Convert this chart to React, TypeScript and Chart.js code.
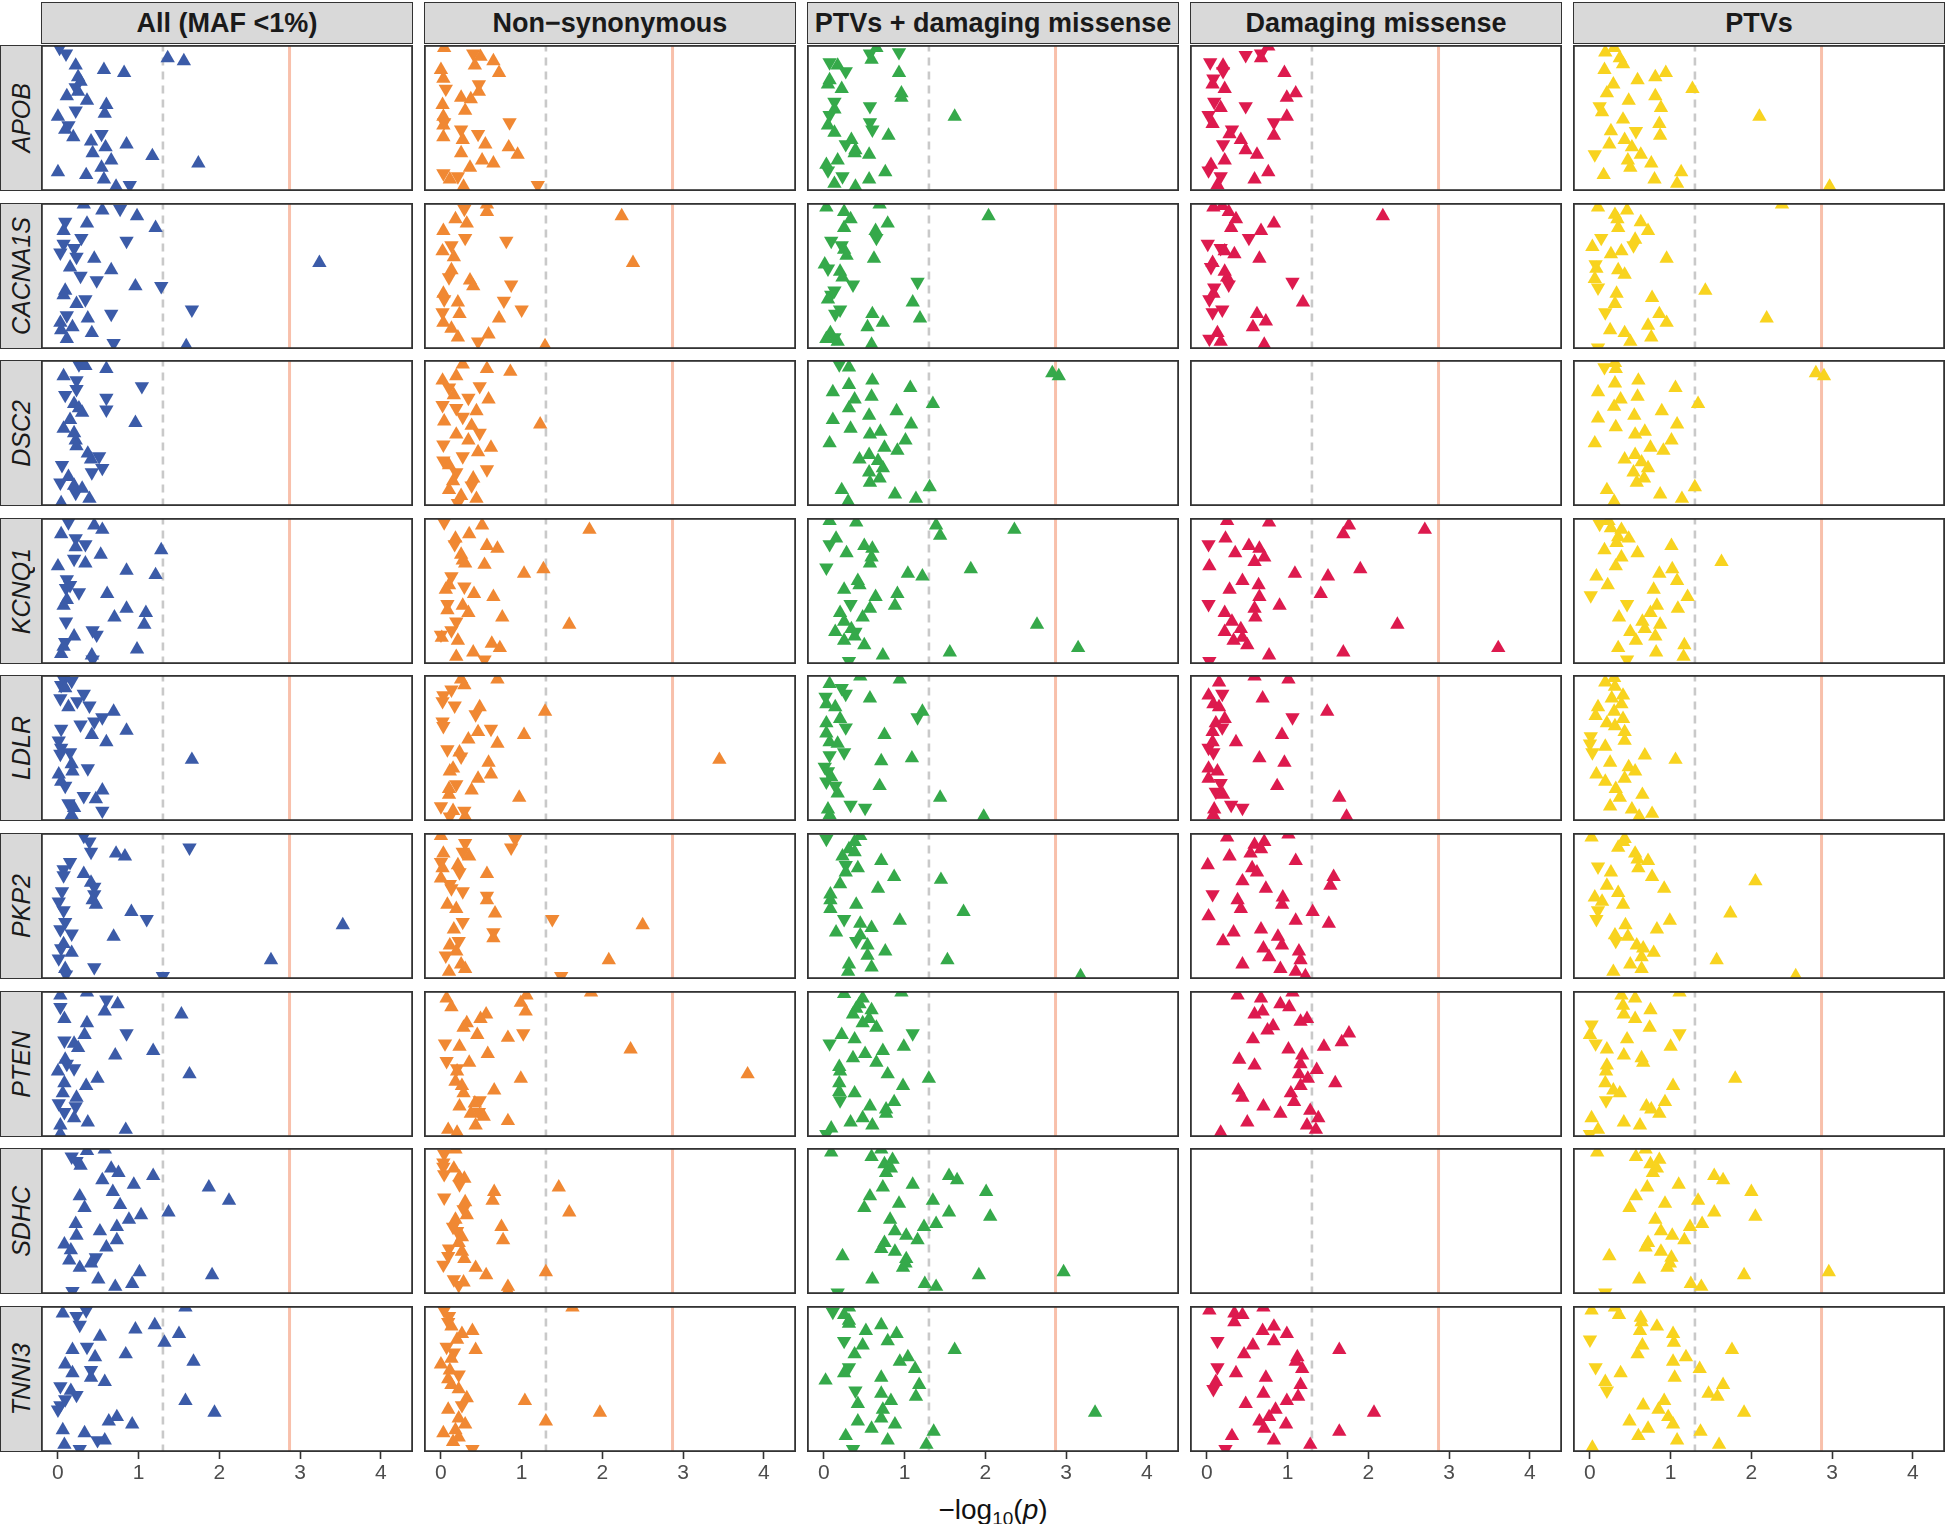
import React, { useEffect, useRef } from "react";
import { Chart, registerables } from "chart.js";

Chart.register(...registerables);

type Pt = [number, number, number]; // [-log10(p), jitter position, direction (+1 up / -1 down)]

const genes = ["APOB", "CACNA1S", "DSC2", "KCNQ1", "LDLR", "PKP2", "PTEN", "SDHC", "TNNI3"];
const categories = ["All (MAF <1%)", "Non\u2212synonymous", "PTVs + damaging missense", "Damaging missense", "PTVs"];
const categoryColors = ["#3B5BA8", "#F08833", "#35A94A", "#DD1A4E", "#F8D31F"];
const xTicks = [0, 1, 2, 3, 4];
const nominalThreshold = 1.301;
const bonferroniThreshold = 2.87;

const allMaf: Pt[][] = [
  [[0.02,0.98,-1],[0.10,0.94,-1],[0.22,0.86,1],[0.57,0.83,1],[0.82,0.81,1],[1.36,0.91,1],[1.56,0.89,1],[0.25,0.78,1],[0.28,0.75,1],[0.22,0.71,-1],[0.25,0.68,1],[0.11,0.65,1],[0.36,0.62,1],[0.60,0.59,1],[0.22,0.55,-1],[0.58,0.53,1],[0.00,0.51,1],[0.13,0.45,-1],[0.09,0.42,1],[0.19,0.37,1],[0.54,0.39,-1],[0.41,0.34,1],[0.85,0.32,1],[0.59,0.30,1],[0.43,0.26,1],[1.17,0.24,1],[0.66,0.21,1],[1.74,0.19,1],[0.00,0.13,1],[0.54,0.16,1],[0.35,0.11,1],[0.57,0.08,1],[0.72,0.03,1],[0.89,0.04,-1]],
  [[0.32,0.99,1],[0.55,0.95,1],[0.77,0.96,-1],[0.98,0.91,1],[0.09,0.87,-1],[0.36,0.86,1],[0.07,0.81,1],[1.21,0.83,1],[0.29,0.76,-1],[0.85,0.74,-1],[0.07,0.72,-1],[0.20,0.69,-1],[0.03,0.66,-1],[0.23,0.63,-1],[0.45,0.62,1],[3.24,0.59,1],[0.15,0.56,1],[0.66,0.54,1],[0.28,0.50,-1],[0.48,0.47,-1],[0.96,0.43,1],[1.28,0.43,-1],[0.09,0.40,1],[0.07,0.37,1],[0.34,0.34,-1],[0.23,0.31,1],[1.66,0.27,-1],[0.66,0.24,-1],[0.11,0.23,-1],[0.37,0.21,1],[0.03,0.18,1],[0.18,0.15,1],[0.04,0.13,1],[0.42,0.11,1],[0.11,0.07,1],[0.69,0.04,-1],[1.59,0.02,1]],
  [[0.26,0.97,-1],[0.34,0.96,1],[0.60,0.94,1],[0.07,0.89,1],[0.23,0.86,-1],[0.23,0.80,-1],[0.09,0.76,-1],[1.04,0.82,-1],[0.60,0.74,-1],[0.60,0.66,-1],[0.20,0.70,1],[0.26,0.67,1],[0.30,0.64,1],[0.96,0.57,1],[0.15,0.59,1],[0.07,0.53,1],[0.20,0.50,1],[0.22,0.45,1],[0.23,0.41,1],[0.37,0.36,1],[0.41,0.32,1],[0.51,0.34,-1],[0.55,0.26,-1],[0.42,0.23,-1],[0.05,0.28,-1],[0.13,0.20,1],[0.03,0.16,-1],[0.20,0.14,1],[0.30,0.12,1],[0.22,0.09,-1],[0.39,0.05,1],[0.04,0.02,1]],
  [[0.13,0.97,-1],[0.45,0.95,1],[0.55,0.92,1],[0.04,0.89,1],[0.22,0.86,-1],[0.34,0.82,-1],[0.22,0.80,1],[1.28,0.78,1],[0.53,0.75,1],[0.20,0.72,-1],[0.34,0.69,1],[0.00,0.67,1],[0.85,0.64,1],[1.21,0.61,1],[0.11,0.58,-1],[0.15,0.54,-1],[0.10,0.52,-1],[0.26,0.49,-1],[0.61,0.48,1],[0.11,0.44,1],[0.07,0.40,1],[0.85,0.38,1],[1.09,0.35,1],[0.70,0.32,1],[1.07,0.27,1],[0.10,0.29,-1],[0.43,0.23,-1],[0.48,0.20,-1],[0.20,0.19,1],[0.09,0.15,-1],[0.07,0.12,1],[0.04,0.07,1],[0.98,0.10,1],[0.42,0.06,1],[0.43,0.03,-1]],
  [[0.07,0.97,-1],[0.17,0.96,-1],[0.04,0.93,-1],[0.09,0.91,1],[0.32,0.87,-1],[0.03,0.84,-1],[0.24,0.82,-1],[0.39,0.79,-1],[0.13,0.78,1],[0.69,0.75,1],[0.55,0.71,-1],[0.45,0.68,-1],[0.28,0.66,-1],[0.04,0.63,-1],[0.85,0.62,1],[0.42,0.59,1],[0.60,0.54,1],[0.01,0.55,-1],[0.04,0.50,-1],[0.15,0.47,-1],[0.03,0.46,-1],[1.66,0.42,1],[0.17,0.39,1],[0.37,0.36,-1],[0.18,0.34,1],[0.01,0.32,1],[0.04,0.27,1],[0.09,0.24,-1],[0.55,0.21,1],[0.32,0.17,-1],[0.47,0.15,1],[0.13,0.12,-1],[0.20,0.09,1],[0.17,0.04,1],[0.55,0.07,-1]],
  [[0.32,0.98,-1],[0.39,0.94,-1],[0.41,0.87,-1],[1.63,0.90,-1],[0.72,0.86,1],[0.83,0.84,1],[0.15,0.80,-1],[0.07,0.75,-1],[0.07,0.71,-1],[0.32,0.72,1],[0.41,0.66,1],[0.45,0.63,-1],[0.45,0.58,-1],[0.43,0.54,1],[0.47,0.51,1],[0.05,0.60,-1],[0.01,0.53,-1],[0.07,0.47,-1],[0.91,0.46,1],[1.10,0.41,-1],[3.53,0.37,1],[0.09,0.39,-1],[0.03,0.34,-1],[0.17,0.31,-1],[0.69,0.29,1],[0.07,0.24,1],[0.04,0.21,-1],[0.17,0.18,1],[0.01,0.14,-1],[2.64,0.13,1],[0.45,0.08,-1],[0.09,0.07,1],[0.10,0.03,-1],[1.30,0.02,-1]],
  [[0.03,0.97,1],[0.36,0.99,1],[0.60,0.94,-1],[0.74,0.91,1],[0.58,0.86,1],[0.03,0.89,-1],[1.53,0.84,1],[0.08,0.81,1],[0.36,0.78,1],[0.33,0.70,1],[0.85,0.71,-1],[0.08,0.66,-1],[0.20,0.64,1],[0.25,0.61,1],[1.18,0.59,1],[0.71,0.56,1],[0.09,0.53,1],[0.11,0.50,-1],[0.20,0.47,-1],[0.00,0.45,1],[1.63,0.43,1],[0.49,0.40,1],[0.08,0.37,1],[0.35,0.35,1],[0.06,0.30,1],[0.23,0.27,1],[0.01,0.23,-1],[0.22,0.21,-1],[0.08,0.17,-1],[0.20,0.13,1],[0.37,0.10,1],[0.03,0.08,1],[0.84,0.05,1],[0.03,0.02,1]],
  [[0.36,0.98,1],[0.58,0.99,1],[0.17,0.94,-1],[0.23,0.91,-1],[0.28,0.88,1],[0.66,0.86,1],[0.75,0.83,1],[1.18,0.81,1],[0.55,0.78,1],[0.94,0.75,1],[1.87,0.73,1],[0.68,0.70,1],[0.27,0.67,1],[2.12,0.64,1],[0.77,0.61,1],[0.33,0.59,1],[1.37,0.56,1],[1.03,0.54,1],[0.88,0.51,1],[0.22,0.48,1],[0.73,0.46,1],[0.52,0.43,1],[0.23,0.40,1],[0.73,0.37,1],[0.08,0.34,1],[0.60,0.32,1],[0.16,0.30,1],[0.47,0.25,-1],[0.14,0.23,1],[0.41,0.21,1],[0.27,0.18,1],[1.01,0.15,1],[1.91,0.13,1],[0.50,0.10,1],[0.92,0.07,1],[0.71,0.05,1],[0.18,0.02,-1]],
  [[0.06,0.95,1],[0.35,0.97,-1],[0.23,0.93,-1],[0.27,0.87,-1],[1.58,0.99,1],[0.96,0.84,1],[1.20,0.87,1],[1.50,0.81,1],[0.52,0.79,1],[1.32,0.75,1],[0.36,0.72,-1],[0.18,0.70,1],[0.84,0.67,1],[0.46,0.65,1],[1.68,0.62,1],[0.09,0.60,1],[0.18,0.54,1],[0.41,0.56,-1],[0.41,0.51,1],[0.58,0.48,1],[0.03,0.45,-1],[0.16,0.42,1],[0.23,0.39,-1],[0.09,0.36,-1],[0.03,0.32,-1],[0.00,0.29,-1],[1.58,0.35,1],[1.94,0.27,1],[0.73,0.24,1],[0.63,0.21,1],[0.92,0.19,1],[0.06,0.15,1],[0.33,0.13,1],[0.49,0.08,-1],[0.58,0.08,1],[0.08,0.05,1],[0.27,0.02,-1]]
];

const nonSynonymous: Pt[][] = [
  [[0.04,0.98,1],[0.40,0.94,-1],[0.49,0.92,1],[0.65,0.89,1],[0.42,0.86,1],[0.00,0.83,1],[0.72,0.81,1],[0.03,0.77,1],[0.06,0.70,-1],[0.47,0.73,-1],[0.47,0.68,1],[0.25,0.64,1],[0.37,0.63,1],[0.02,0.59,1],[0.30,0.55,1],[0.03,0.51,1],[0.04,0.47,-1],[0.03,0.45,1],[0.85,0.47,-1],[0.25,0.42,-1],[0.46,0.39,-1],[0.03,0.37,1],[0.27,0.35,1],[0.55,0.32,1],[0.84,0.30,1],[0.25,0.26,1],[0.95,0.25,1],[0.51,0.21,1],[0.65,0.19,1],[0.36,0.16,1],[0.03,0.12,-1],[0.21,0.10,-1],[0.11,0.08,1],[0.28,0.03,1],[1.20,0.04,-1]],
  [[0.57,0.99,1],[0.57,0.94,1],[0.29,0.96,-1],[2.24,0.91,1],[0.18,0.89,1],[0.32,0.86,1],[0.03,0.81,1],[0.30,0.76,-1],[0.81,0.74,-1],[0.13,0.71,-1],[0.02,0.67,1],[0.16,0.63,1],[2.38,0.59,1],[0.13,0.54,1],[0.10,0.49,-1],[0.36,0.47,1],[0.40,0.43,1],[0.87,0.44,-1],[0.03,0.38,1],[0.04,0.34,-1],[0.21,0.32,1],[0.78,0.33,-1],[1.00,0.27,-1],[0.02,0.25,-1],[0.23,0.24,1],[0.72,0.21,1],[0.03,0.18,1],[0.13,0.14,1],[0.21,0.08,1],[0.59,0.10,1],[0.46,0.05,-1],[1.29,0.02,1]],
  [[0.27,0.97,1],[0.57,0.94,1],[0.86,0.92,1],[0.19,0.89,1],[0.02,0.86,1],[0.10,0.81,-1],[0.16,0.76,1],[0.48,0.82,-1],[0.34,0.74,-1],[0.59,0.73,1],[0.02,0.69,-1],[0.19,0.67,-1],[0.27,0.61,-1],[0.44,0.65,1],[0.04,0.58,1],[1.23,0.56,1],[0.38,0.55,1],[0.48,0.50,-1],[0.19,0.49,1],[0.34,0.45,1],[0.03,0.42,-1],[0.62,0.40,1],[0.46,0.37,1],[0.27,0.34,-1],[0.03,0.31,-1],[0.10,0.28,1],[0.57,0.25,-1],[0.19,0.23,-1],[0.40,0.19,1],[0.15,0.17,1],[0.38,0.14,-1],[0.10,0.11,1],[0.25,0.07,1],[0.44,0.05,1],[0.21,0.02,-1]],
  [[0.04,0.97,-1],[0.51,0.95,1],[1.84,0.92,1],[0.35,0.89,1],[0.18,0.86,1],[0.17,0.82,-1],[0.57,0.81,1],[0.70,0.79,1],[0.25,0.75,1],[0.27,0.71,1],[0.30,0.69,1],[0.54,0.68,1],[1.03,0.62,1],[1.27,0.65,1],[0.13,0.60,-1],[0.10,0.54,1],[0.29,0.53,-1],[0.06,0.51,1],[0.41,0.48,1],[0.65,0.46,1],[0.08,0.41,-1],[0.08,0.37,1],[0.27,0.40,1],[0.34,0.35,1],[0.76,0.32,1],[1.59,0.27,1],[0.19,0.29,-1],[0.13,0.23,-1],[0.00,0.20,-1],[0.01,0.18,1],[0.21,0.16,1],[0.63,0.14,1],[0.73,0.11,1],[0.40,0.08,1],[0.19,0.05,1],[0.54,0.03,-1]],
  [[0.25,0.97,1],[0.29,0.93,1],[0.70,0.97,1],[0.13,0.90,-1],[0.03,0.86,-1],[0.02,0.82,-1],[0.17,0.79,-1],[0.48,0.78,1],[0.43,0.73,-1],[1.29,0.75,1],[0.02,0.68,-1],[0.03,0.65,-1],[0.62,0.63,-1],[0.46,0.61,1],[0.34,0.56,1],[1.03,0.59,1],[0.70,0.53,1],[0.08,0.49,-1],[0.23,0.47,1],[0.25,0.44,-1],[3.45,0.42,1],[0.59,0.40,1],[0.15,0.36,1],[0.11,0.34,1],[0.62,0.32,1],[0.46,0.29,1],[0.19,0.25,-1],[0.10,0.22,1],[0.38,0.21,1],[0.10,0.18,1],[0.97,0.16,1],[0.00,0.10,-1],[0.15,0.07,1],[0.29,0.07,-1],[0.11,0.03,-1],[0.30,0.03,1]],
  [[0.00,0.98,1],[0.30,0.93,-1],[0.92,0.96,-1],[0.87,0.90,-1],[0.27,0.87,-1],[0.35,0.84,1],[0.03,0.86,1],[0.00,0.80,-1],[0.02,0.76,1],[0.21,0.78,1],[0.23,0.73,-1],[0.57,0.72,1],[0.00,0.69,1],[0.11,0.65,-1],[0.13,0.62,-1],[0.27,0.60,-1],[0.57,0.57,-1],[0.57,0.54,1],[0.08,0.51,1],[0.19,0.48,1],[0.67,0.45,1],[1.38,0.41,-1],[0.27,0.39,-1],[2.50,0.37,1],[0.16,0.34,1],[0.65,0.32,-1],[0.65,0.28,1],[0.22,0.26,-1],[0.11,0.23,1],[0.19,0.19,1],[0.06,0.16,-1],[2.08,0.13,1],[0.25,0.10,1],[0.30,0.07,1],[0.10,0.05,1],[1.49,0.02,-1]],
  [[0.07,0.95,1],[0.13,0.89,1],[1.06,0.97,1],[0.99,0.92,1],[1.05,0.86,1],[1.86,0.99,1],[0.56,0.84,1],[0.49,0.81,1],[0.32,0.78,1],[0.28,0.75,1],[1.02,0.71,-1],[0.45,0.70,1],[0.83,0.68,1],[0.05,0.64,-1],[0.23,0.62,1],[2.35,0.60,1],[0.58,0.57,1],[0.07,0.52,-1],[0.35,0.51,1],[0.20,0.47,-1],[0.20,0.45,1],[0.99,0.40,1],[3.80,0.43,1],[0.18,0.38,1],[0.26,0.35,1],[0.66,0.32,1],[0.28,0.30,1],[0.48,0.25,-1],[0.42,0.23,1],[0.23,0.21,1],[0.47,0.17,-1],[0.37,0.16,1],[0.53,0.14,1],[0.83,0.11,1],[0.43,0.08,1],[0.09,0.05,1],[0.20,0.03,1]],
  [[0.04,0.96,-1],[0.18,0.99,1],[0.03,0.90,-1],[0.03,0.87,-1],[0.16,0.86,1],[0.04,0.82,-1],[0.23,0.80,1],[0.29,0.79,1],[0.23,0.75,-1],[0.66,0.70,1],[0.64,0.64,1],[1.46,0.73,1],[0.04,0.66,-1],[0.30,0.63,1],[0.28,0.58,-1],[0.32,0.54,1],[1.59,0.56,1],[0.18,0.51,1],[0.15,0.46,-1],[0.20,0.43,-1],[0.26,0.39,1],[0.75,0.46,1],[0.77,0.37,1],[0.22,0.35,1],[0.10,0.31,-1],[0.09,0.26,-1],[0.26,0.29,1],[0.29,0.24,1],[0.03,0.20,-1],[0.43,0.18,1],[0.56,0.13,1],[1.30,0.15,1],[0.16,0.10,-1],[0.28,0.08,1],[0.22,0.06,-1],[0.83,0.05,1],[0.83,0.02,1]],
  [[0.04,0.97,-1],[0.10,0.93,-1],[0.09,0.89,-1],[0.13,0.86,1],[1.63,0.99,1],[0.39,0.83,1],[0.26,0.81,1],[0.20,0.77,1],[0.07,0.72,-1],[0.16,0.68,-1],[0.43,0.70,1],[0.13,0.64,1],[0.00,0.60,1],[0.11,0.56,1],[0.22,0.53,-1],[0.09,0.50,1],[0.13,0.46,1],[0.22,0.43,1],[0.32,0.37,1],[0.26,0.32,-1],[1.04,0.35,1],[0.09,0.29,1],[1.97,0.27,1],[0.22,0.23,1],[1.30,0.21,1],[0.30,0.19,1],[0.18,0.15,1],[0.03,0.13,1],[0.22,0.10,1],[0.15,0.07,1],[0.39,0.02,-1]]
];

const ptvDamaging: Pt[][] = [
  [[0.65,0.98,1],[0.57,0.94,-1],[0.59,0.90,1],[0.93,0.95,-1],[0.07,0.88,-1],[0.17,0.86,1],[0.27,0.82,-1],[0.93,0.81,1],[0.07,0.76,1],[0.05,0.73,1],[0.22,0.70,1],[0.96,0.67,1],[0.96,0.64,1],[0.13,0.61,-1],[0.13,0.56,1],[0.07,0.52,-1],[0.57,0.58,-1],[1.62,0.51,1],[0.57,0.47,-1],[0.60,0.42,-1],[0.05,0.45,1],[0.13,0.40,1],[0.80,0.38,1],[0.34,0.35,1],[0.27,0.32,-1],[0.39,0.28,1],[0.38,0.26,1],[0.56,0.25,1],[0.17,0.21,1],[0.03,0.18,1],[0.05,0.14,-1],[0.76,0.13,1],[0.23,0.10,-1],[0.56,0.08,1],[0.13,0.05,1],[0.39,0.03,1]],
  [[0.03,0.97,1],[0.25,0.94,1],[0.33,0.89,1],[0.69,0.99,1],[2.04,0.91,1],[0.79,0.86,1],[0.25,0.83,1],[0.64,0.81,1],[0.65,0.76,-1],[0.09,0.74,-1],[0.22,0.71,-1],[0.25,0.68,1],[0.28,0.64,1],[0.62,0.62,1],[0.01,0.58,1],[0.05,0.55,-1],[0.20,0.53,1],[0.23,0.49,1],[0.36,0.44,-1],[1.16,0.46,-1],[0.13,0.40,-1],[0.09,0.37,-1],[0.05,0.34,1],[1.10,0.32,1],[0.20,0.27,-1],[0.14,0.24,-1],[0.60,0.24,1],[1.19,0.21,1],[0.73,0.18,1],[0.54,0.15,1],[0.08,0.11,1],[0.03,0.07,1],[0.17,0.05,1],[0.13,0.08,-1],[0.59,0.03,1]],
  [[0.19,0.97,-1],[0.31,0.95,1],[2.83,0.91,1],[2.91,0.89,1],[0.31,0.83,1],[0.60,0.86,1],[0.11,0.78,1],[1.07,0.81,1],[0.38,0.73,1],[0.59,0.75,1],[1.35,0.70,1],[0.31,0.67,1],[0.11,0.59,1],[0.56,0.62,1],[0.90,0.65,1],[0.33,0.53,1],[1.08,0.56,1],[0.57,0.49,1],[0.70,0.51,1],[0.07,0.43,1],[1.01,0.45,1],[0.75,0.40,1],[0.91,0.38,1],[0.44,0.32,1],[0.56,0.35,1],[0.67,0.31,1],[0.73,0.26,1],[0.56,0.23,1],[0.69,0.19,1],[0.57,0.16,1],[1.31,0.13,1],[0.22,0.11,1],[0.88,0.08,1],[1.14,0.05,1],[0.30,0.03,1]],
  [[0.07,0.98,1],[0.40,0.97,1],[1.39,0.95,1],[1.44,0.88,1],[2.36,0.92,1],[0.15,0.86,1],[0.07,0.82,-1],[0.50,0.81,1],[0.60,0.79,1],[0.28,0.76,1],[0.59,0.73,1],[0.57,0.69,1],[0.03,0.66,-1],[1.04,0.62,1],[1.22,0.60,1],[1.82,0.65,1],[0.42,0.57,1],[0.44,0.54,1],[0.25,0.51,1],[0.91,0.48,1],[0.64,0.46,1],[0.88,0.40,1],[0.33,0.41,-1],[0.57,0.38,1],[0.20,0.35,1],[0.48,0.32,1],[0.25,0.29,1],[2.64,0.27,1],[0.34,0.24,1],[0.14,0.22,1],[0.39,0.22,-1],[0.38,0.19,1],[0.25,0.16,1],[0.50,0.13,1],[3.15,0.11,1],[1.56,0.08,1],[0.73,0.06,1],[0.31,0.02,-1]],
  [[0.07,0.94,1],[0.45,0.99,1],[0.94,0.97,1],[0.22,0.91,-1],[0.27,0.87,-1],[0.02,0.85,-1],[0.03,0.80,1],[0.57,0.84,1],[0.14,0.78,1],[1.22,0.75,1],[1.16,0.71,-1],[0.20,0.70,1],[0.03,0.67,1],[0.27,0.64,-1],[0.75,0.59,1],[0.03,0.60,1],[0.07,0.54,1],[0.17,0.53,1],[0.25,0.47,-1],[0.07,0.45,-1],[0.71,0.41,1],[1.09,0.43,1],[0.01,0.37,-1],[0.05,0.34,-1],[0.09,0.30,1],[0.03,0.27,-1],[0.69,0.24,1],[0.14,0.24,-1],[0.17,0.19,1],[1.44,0.16,1],[0.33,0.11,-1],[0.51,0.09,-1],[0.05,0.08,1],[0.07,0.04,1],[1.98,0.03,1]],
  [[0.03,0.96,-1],[0.45,0.98,1],[0.38,0.94,1],[0.31,0.89,1],[0.38,0.87,1],[0.71,0.81,1],[0.23,0.84,1],[0.27,0.78,-1],[0.42,0.76,1],[0.27,0.73,1],[0.87,0.70,1],[1.45,0.68,1],[0.20,0.65,1],[0.67,0.62,1],[0.08,0.58,1],[0.08,0.54,1],[0.08,0.48,1],[0.40,0.51,1],[1.73,0.46,1],[0.25,0.41,-1],[0.94,0.40,1],[0.45,0.38,1],[0.59,0.35,1],[0.15,0.32,1],[0.45,0.30,1],[0.40,0.26,-1],[0.54,0.23,1],[0.76,0.19,1],[0.54,0.16,1],[1.53,0.13,1],[0.31,0.10,1],[0.59,0.08,1],[0.30,0.05,1],[3.18,0.02,1]],
  [[0.25,0.98,1],[0.96,0.99,1],[0.48,0.95,1],[0.44,0.91,1],[0.40,0.88,1],[0.59,0.87,1],[0.36,0.84,1],[0.56,0.81,1],[0.48,0.78,1],[0.65,0.75,1],[1.10,0.71,-1],[0.22,0.70,1],[0.38,0.67,1],[0.07,0.64,-1],[0.99,0.62,1],[0.73,0.59,1],[0.51,0.57,1],[0.36,0.54,1],[0.65,0.51,1],[0.19,0.48,1],[0.20,0.45,1],[0.79,0.43,1],[1.30,0.40,1],[0.19,0.37,1],[0.98,0.35,1],[0.19,0.31,1],[0.38,0.30,1],[0.20,0.25,-1],[0.87,0.24,1],[0.57,0.21,1],[0.77,0.19,1],[0.77,0.16,1],[0.48,0.13,1],[0.33,0.10,1],[0.60,0.08,1],[0.09,0.06,1],[0.03,0.02,-1]],
  [[0.09,0.97,1],[0.71,0.99,1],[0.59,0.94,1],[0.85,0.92,1],[0.75,0.89,1],[0.83,0.86,1],[0.77,0.83,1],[1.55,0.81,1],[1.65,0.78,1],[1.10,0.75,1],[2.01,0.70,1],[0.73,0.73,1],[0.57,0.67,1],[1.35,0.64,1],[0.93,0.62,1],[0.50,0.59,1],[1.55,0.56,1],[2.06,0.53,1],[0.82,0.51,1],[1.39,0.48,1],[1.24,0.46,1],[0.88,0.43,1],[1.02,0.40,1],[1.16,0.37,1],[0.75,0.35,1],[0.71,0.31,1],[0.88,0.29,1],[0.23,0.26,1],[1.02,0.24,1],[1.01,0.21,1],[0.98,0.18,1],[2.97,0.15,1],[1.92,0.13,1],[0.60,0.10,1],[1.25,0.07,1],[1.39,0.05,1],[0.17,0.01,-1]],
  [[0.11,0.96,-1],[0.31,0.99,1],[0.25,0.94,1],[0.31,0.90,1],[0.31,0.88,1],[0.71,0.87,1],[0.52,0.83,1],[0.90,0.81,1],[0.25,0.76,-1],[0.79,0.76,1],[0.48,0.73,1],[1.62,0.70,1],[0.38,0.67,1],[1.04,0.65,1],[0.94,0.62,1],[1.13,0.57,1],[0.31,0.58,-1],[0.25,0.54,1],[0.02,0.49,1],[0.71,0.51,1],[1.18,0.46,1],[0.39,0.42,-1],[0.71,0.40,1],[1.14,0.38,1],[0.83,0.35,1],[0.42,0.33,1],[0.73,0.29,1],[0.71,0.23,1],[3.36,0.27,1],[0.42,0.21,1],[0.88,0.19,1],[0.59,0.16,1],[1.36,0.14,1],[0.27,0.11,1],[0.79,0.08,1],[1.27,0.05,1],[0.36,0.02,-1]]
];

const damagingMissense: Pt[][] = [
  [[0.76,0.99,1],[0.67,0.94,-1],[0.67,0.91,1],[0.48,0.93,-1],[0.04,0.88,-1],[0.20,0.86,1],[0.20,0.82,-1],[0.96,0.81,1],[0.08,0.77,-1],[0.07,0.73,1],[0.22,0.70,1],[1.10,0.67,1],[0.99,0.64,1],[0.09,0.61,-1],[0.17,0.57,1],[0.02,0.52,-1],[0.48,0.58,-1],[0.99,0.51,1],[0.83,0.47,-1],[0.07,0.46,1],[0.31,0.42,-1],[0.28,0.39,1],[0.83,0.38,1],[0.42,0.35,1],[0.20,0.32,-1],[0.48,0.28,1],[0.62,0.25,1],[0.22,0.21,1],[0.05,0.18,1],[0.02,0.14,-1],[0.76,0.13,1],[0.17,0.10,-1],[0.59,0.08,1],[0.13,0.04,1]],
  [[0.08,0.97,1],[0.19,0.98,1],[0.27,0.94,1],[2.18,0.91,1],[0.36,0.89,1],[0.83,0.86,1],[0.30,0.83,1],[0.67,0.81,1],[0.52,0.76,-1],[0.01,0.72,-1],[0.17,0.69,-1],[0.22,0.67,1],[0.34,0.65,1],[0.65,0.62,1],[0.07,0.59,1],[0.05,0.56,-1],[0.22,0.53,1],[0.25,0.49,1],[0.27,0.44,-1],[1.06,0.46,-1],[0.09,0.42,-1],[0.08,0.38,1],[0.03,0.34,-1],[1.19,0.32,1],[0.19,0.27,-1],[0.07,0.25,-1],[0.62,0.24,1],[0.73,0.19,1],[0.57,0.15,1],[0.13,0.11,1],[0.03,0.07,-1],[0.17,0.05,1],[0.71,0.03,1]],
  [],
  [[0.25,0.98,1],[0.77,0.97,1],[1.76,0.95,1],[1.69,0.89,1],[2.70,0.92,1],[0.23,0.86,1],[0.02,0.82,-1],[0.52,0.81,1],[0.65,0.79,1],[0.35,0.76,1],[0.71,0.73,1],[0.59,0.70,1],[0.03,0.67,1],[1.09,0.62,1],[1.50,0.60,1],[1.90,0.65,1],[1.41,0.48,1],[0.44,0.57,1],[0.64,0.54,1],[0.28,0.51,1],[0.65,0.46,1],[0.02,0.41,-1],[0.90,0.40,1],[0.59,0.38,1],[0.22,0.35,1],[0.60,0.32,1],[0.31,0.29,1],[2.36,0.27,1],[0.42,0.24,1],[0.22,0.22,1],[0.44,0.18,1],[0.33,0.16,1],[0.50,0.13,1],[3.61,0.11,1],[1.69,0.08,1],[0.77,0.06,1],[0.03,0.02,-1]],
  [[0.15,0.95,1],[0.59,0.99,1],[1.01,0.97,1],[0.19,0.87,-1],[0.02,0.86,1],[0.08,0.80,1],[0.15,0.78,1],[0.69,0.84,1],[1.49,0.75,1],[1.06,0.71,-1],[0.22,0.70,1],[0.11,0.67,1],[0.19,0.64,-1],[0.93,0.59,1],[0.07,0.61,1],[0.36,0.54,1],[0.07,0.54,1],[0.02,0.50,-1],[0.08,0.47,-1],[0.65,0.43,1],[0.96,0.40,1],[0.02,0.36,1],[0.13,0.34,1],[0.02,0.29,1],[0.87,0.24,1],[0.17,0.26,-1],[0.11,0.20,-1],[0.20,0.18,1],[1.64,0.16,1],[0.30,0.11,-1],[0.44,0.09,-1],[0.09,0.08,1],[0.08,0.04,1],[1.73,0.03,1]],
  [[0.25,0.97,1],[1.01,0.99,1],[0.59,0.92,1],[0.71,0.94,1],[0.67,0.89,1],[0.54,0.86,1],[0.28,0.84,1],[1.10,0.81,1],[0.01,0.78,1],[0.56,0.76,1],[0.62,0.73,1],[1.57,0.70,1],[1.53,0.64,1],[0.44,0.67,1],[0.73,0.62,1],[0.07,0.58,-1],[0.38,0.54,1],[0.42,0.48,1],[0.94,0.56,1],[0.93,0.51,1],[1.31,0.46,1],[0.02,0.43,1],[1.10,0.40,1],[1.51,0.38,1],[0.67,0.34,1],[0.33,0.32,1],[0.88,0.29,1],[0.20,0.26,1],[0.93,0.23,1],[0.70,0.21,1],[0.77,0.15,1],[1.14,0.19,1],[1.16,0.13,1],[0.44,0.10,1],[0.91,0.07,1],[1.10,0.05,1],[1.22,0.02,1]],
  [[0.38,0.97,1],[1.06,0.99,1],[0.67,0.95,1],[0.91,0.91,1],[1.02,0.89,1],[0.69,0.86,1],[0.59,0.84,1],[1.24,0.81,1],[1.16,0.79,1],[0.82,0.76,1],[0.75,0.73,1],[1.76,0.71,1],[1.67,0.65,1],[0.57,0.67,1],[1.45,0.62,1],[1.01,0.60,1],[1.18,0.56,1],[1.16,0.50,1],[0.40,0.53,1],[0.59,0.49,1],[1.36,0.46,1],[1.14,0.43,1],[1.25,0.40,1],[1.16,0.35,1],[1.59,0.37,1],[0.39,0.32,1],[0.44,0.27,1],[1.04,0.30,1],[1.08,0.24,1],[0.70,0.21,1],[0.91,0.16,1],[1.28,0.18,1],[1.38,0.13,1],[0.50,0.10,1],[1.24,0.08,1],[1.35,0.05,1],[0.17,0.03,1]],
  [],
  [[0.03,0.97,1],[0.70,0.99,1],[0.34,0.95,1],[0.44,0.94,1],[0.34,0.89,1],[0.83,0.86,1],[0.69,0.83,1],[0.99,0.81,1],[0.13,0.76,-1],[0.83,0.76,1],[0.57,0.73,1],[1.64,0.70,1],[0.46,0.67,1],[1.12,0.65,1],[1.10,0.62,1],[1.18,0.57,1],[0.13,0.58,-1],[0.36,0.54,1],[0.11,0.48,1],[0.08,0.43,-1],[0.73,0.51,1],[1.16,0.46,1],[0.70,0.40,1],[1.13,0.38,1],[0.99,0.35,1],[0.48,0.33,1],[0.85,0.29,1],[0.77,0.24,1],[2.07,0.27,1],[0.65,0.21,1],[0.98,0.19,1],[0.71,0.16,1],[1.64,0.14,1],[0.31,0.11,1],[0.83,0.08,1],[1.28,0.05,1],[0.23,0.02,-1]]
];

const ptvs: Pt[][] = [
  [[0.19,0.95,1],[0.30,0.98,1],[0.37,0.91,1],[0.41,0.87,1],[0.18,0.83,1],[0.81,0.78,1],[0.94,0.81,1],[0.59,0.76,1],[0.29,0.73,1],[0.21,0.67,1],[1.27,0.70,1],[0.81,0.65,1],[0.48,0.62,1],[0.88,0.57,1],[0.12,0.58,-1],[0.15,0.54,1],[0.41,0.49,1],[0.86,0.46,1],[0.57,0.41,-1],[0.26,0.41,1],[0.87,0.38,1],[0.43,0.35,1],[0.24,0.32,1],[0.52,0.30,1],[0.06,0.25,-1],[0.63,0.25,1],[0.47,0.21,1],[0.50,0.16,1],[0.76,0.19,1],[1.13,0.13,1],[0.17,0.11,1],[0.80,0.08,1],[1.08,0.05,1],[2.10,0.51,1],[2.97,0.03,1]],
  [[0.10,0.97,1],[0.31,0.92,1],[0.46,0.95,1],[0.34,0.89,1],[0.35,0.83,1],[2.38,0.99,1],[0.63,0.87,1],[0.72,0.81,1],[0.14,0.76,-1],[0.03,0.70,1],[0.56,0.75,1],[0.54,0.71,-1],[0.26,0.65,1],[0.39,0.67,1],[0.95,0.62,1],[0.07,0.58,-1],[0.08,0.55,1],[0.35,0.54,1],[0.43,0.51,1],[0.06,0.48,1],[0.10,0.42,-1],[1.43,0.40,1],[0.33,0.38,1],[0.77,0.35,1],[0.31,0.31,1],[0.19,0.25,-1],[0.86,0.24,1],[0.95,0.18,1],[2.19,0.21,1],[0.25,0.13,1],[0.43,0.11,1],[0.72,0.16,1],[0.76,0.08,1],[0.50,0.05,1],[0.10,0.01,-1]],
  [[0.18,0.95,-1],[0.31,0.98,1],[0.32,0.94,1],[2.80,0.91,1],[2.90,0.89,1],[0.31,0.84,1],[0.60,0.86,1],[0.10,0.78,1],[1.06,0.81,1],[0.38,0.73,1],[0.59,0.75,1],[0.30,0.68,1],[1.34,0.70,1],[0.10,0.60,1],[0.89,0.65,1],[0.55,0.62,1],[0.32,0.54,1],[1.08,0.56,1],[0.68,0.51,1],[0.56,0.49,1],[0.06,0.43,1],[1.01,0.45,1],[0.75,0.40,1],[0.91,0.38,1],[0.43,0.32,1],[0.56,0.35,1],[0.64,0.30,1],[0.72,0.26,1],[0.54,0.23,1],[0.67,0.19,1],[0.58,0.16,1],[1.30,0.13,1],[0.21,0.11,1],[0.87,0.08,1],[1.14,0.05,1],[0.30,0.03,1]],
  [[0.12,0.96,-1],[0.23,0.98,1],[0.26,0.93,1],[0.39,0.92,1],[0.35,0.87,1],[0.48,0.86,1],[0.33,0.83,1],[1.01,0.81,1],[0.18,0.78,1],[0.59,0.76,1],[0.39,0.73,1],[0.32,0.67,1],[1.63,0.70,1],[0.86,0.62,1],[1.02,0.65,1],[1.08,0.57,1],[0.08,0.60,1],[0.22,0.54,1],[0.79,0.51,1],[0.01,0.47,-1],[1.21,0.46,1],[0.46,0.41,-1],[0.83,0.40,1],[1.09,0.38,1],[0.75,0.35,1],[0.36,0.32,1],[0.65,0.29,1],[0.87,0.27,1],[0.68,0.24,1],[0.50,0.22,1],[0.57,0.16,1],[0.81,0.19,1],[0.35,0.11,1],[1.17,0.13,1],[0.82,0.08,1],[1.16,0.05,1],[0.46,0.03,-1]],
  [[0.19,0.95,1],[0.30,0.98,1],[0.31,0.92,1],[0.41,0.86,1],[0.27,0.84,1],[0.39,0.80,1],[0.10,0.78,1],[0.07,0.72,1],[0.30,0.75,1],[0.41,0.70,1],[0.21,0.67,1],[0.31,0.65,1],[0.43,0.61,1],[0.43,0.55,1],[0.01,0.58,-1],[0.00,0.53,-1],[0.03,0.47,-1],[0.19,0.51,1],[0.68,0.45,1],[1.06,0.42,1],[0.25,0.40,1],[0.48,0.37,1],[0.56,0.34,1],[0.08,0.32,1],[0.19,0.27,1],[0.43,0.29,1],[0.32,0.22,1],[0.37,0.16,1],[0.65,0.18,1],[0.25,0.10,1],[0.52,0.08,1],[0.61,0.03,1],[0.77,0.05,1]],
  [[0.02,0.97,1],[0.35,0.90,1],[0.43,0.96,1],[0.41,0.94,1],[0.56,0.86,1],[0.59,0.82,1],[0.72,0.81,1],[0.10,0.77,-1],[0.26,0.73,1],[0.60,0.76,1],[0.77,0.70,1],[2.05,0.67,1],[0.21,0.64,1],[0.35,0.59,1],[0.92,0.62,1],[0.06,0.56,1],[0.15,0.53,1],[0.41,0.51,1],[0.10,0.47,-1],[0.08,0.41,-1],[1.74,0.45,1],[0.99,0.40,1],[0.44,0.37,1],[0.83,0.34,1],[0.31,0.30,1],[0.32,0.26,-1],[0.47,0.29,1],[0.58,0.23,1],[0.66,0.21,1],[0.79,0.18,1],[0.64,0.15,1],[1.57,0.13,1],[0.50,0.10,1],[0.64,0.07,1],[0.29,0.05,1],[2.55,0.02,1]],
  [[0.39,0.97,1],[0.56,0.95,1],[1.11,0.99,1],[0.41,0.90,1],[0.42,0.84,1],[0.56,0.81,1],[0.75,0.87,1],[0.74,0.75,1],[0.02,0.77,-1],[0.00,0.70,1],[0.07,0.64,-1],[1.11,0.71,-1],[0.46,0.67,1],[1.00,0.62,1],[0.21,0.60,1],[0.42,0.56,1],[0.64,0.54,1],[0.66,0.51,1],[0.21,0.49,1],[0.20,0.45,1],[0.19,0.37,1],[1.80,0.40,1],[1.03,0.35,1],[0.29,0.32,1],[0.37,0.30,1],[0.20,0.25,-1],[0.93,0.24,1],[0.70,0.21,1],[0.76,0.19,1],[0.86,0.16,1],[0.02,0.13,1],[0.42,0.10,1],[0.62,0.08,1],[0.10,0.05,1],[0.00,0.02,-1]],
  [[0.09,0.97,1],[0.69,0.99,1],[0.57,0.94,1],[0.86,0.92,1],[0.75,0.89,1],[0.83,0.86,1],[0.78,0.83,1],[1.54,0.81,1],[1.65,0.78,1],[1.10,0.75,1],[2.00,0.70,1],[0.71,0.73,1],[0.57,0.67,1],[1.34,0.64,1],[0.93,0.62,1],[0.49,0.59,1],[1.54,0.56,1],[2.05,0.53,1],[0.81,0.51,1],[1.39,0.48,1],[1.24,0.46,1],[0.88,0.43,1],[1.02,0.40,1],[1.17,0.37,1],[0.72,0.35,1],[0.69,0.32,1],[0.88,0.29,1],[0.24,0.26,1],[1.01,0.25,1],[0.99,0.21,1],[0.96,0.18,1],[2.96,0.15,1],[1.91,0.13,1],[0.61,0.10,1],[1.25,0.07,1],[1.38,0.05,1],[0.19,0.01,-1]],
  [[0.02,0.97,1],[0.31,0.99,1],[0.36,0.94,1],[0.63,0.92,1],[0.64,0.89,1],[0.62,0.83,1],[0.83,0.86,1],[0.00,0.77,-1],[1.03,0.81,1],[1.04,0.75,1],[0.65,0.73,1],[0.59,0.67,1],[1.76,0.70,1],[1.19,0.65,1],[1.03,0.62,1],[0.07,0.58,-1],[0.38,0.54,1],[1.36,0.57,1],[1.05,0.51,1],[0.19,0.48,1],[0.21,0.42,-1],[1.65,0.46,1],[1.47,0.40,1],[1.58,0.38,1],[0.92,0.35,1],[0.66,0.32,1],[0.85,0.29,1],[1.91,0.27,1],[0.49,0.21,1],[0.97,0.24,1],[1.03,0.19,1],[0.72,0.16,1],[0.60,0.11,1],[1.37,0.14,1],[1.08,0.08,1],[1.60,0.05,1],[0.03,0.03,1]]
];

const seriesByCategory: Pt[][][] = [allMaf, nonSynonymous, ptvDamaging, damagingMissense, ptvs];

const PANEL_W = 372;
const PANEL_H = 146;
const COL_PITCH = 383;
const ROW_PITCH = 157.6;
const LEFT0 = 41;
const TOP0 = 45;
const AXIS_H = 40;
const POINT_R = 8.3;
const FONT = '"Liberation Sans", Arial, Helvetica, sans-serif';

const panelBorder = {
  id: "panelBorder",
  afterDraw(chart: any) {
    const { ctx, chartArea: a } = chart;
    ctx.save();
    ctx.strokeStyle = "#333333";
    ctx.lineWidth = 1.8;
    ctx.strokeRect(a.left + 0.9, a.top + 0.9, a.right - a.left - 1.8, a.bottom - a.top - 1.8);
    ctx.restore();
  },
};

function Panel({ points, color, showAxis, left, top }: { points: Pt[]; color: string; showAxis: boolean; left: number; top: number }) {
  const ref = useRef<HTMLCanvasElement | null>(null);
  const h = PANEL_H + (showAxis ? AXIS_H : 0);
  useEffect(() => {
    const canvas = ref.current;
    if (!canvas) return;
    const up = points.filter((p) => p[2] > 0).map((p) => ({ x: p[0], y: p[1] }));
    const down = points.filter((p) => p[2] < 0).map((p) => ({ x: p[0], y: p[1] }));
    const chart = new Chart(canvas, {
      type: "scatter",
      data: {
        datasets: [
          {
            data: [{ x: nominalThreshold, y: -0.1 }, { x: nominalThreshold, y: 1.1 }],
            showLine: true,
            borderColor: "#C9C9C9",
            borderWidth: 2.6,
            borderDash: [8, 6],
            pointRadius: 0,
            order: 3,
            clip: 0,
          } as any,
          {
            data: [{ x: bonferroniThreshold, y: -0.1 }, { x: bonferroniThreshold, y: 1.1 }],
            showLine: true,
            borderColor: "#F8C0AB",
            borderWidth: 3,
            pointRadius: 0,
            order: 3,
            clip: 0,
          } as any,
          {
            data: up,
            pointStyle: "triangle",
            pointRadius: POINT_R,
            pointBackgroundColor: color,
            pointBorderWidth: 0,
            order: 1,
            clip: 0,
          } as any,
          {
            data: down,
            pointStyle: "triangle",
            pointRotation: 180,
            pointRadius: POINT_R,
            pointBackgroundColor: color,
            pointBorderWidth: 0,
            order: 1,
            clip: 0,
          } as any,
        ],
      },
      options: {
        animation: false,
        responsive: false,
        maintainAspectRatio: false,
        events: [],
        layout: { padding: 0, autoPadding: false },
        plugins: { legend: { display: false }, tooltip: { enabled: false } },
        scales: {
          x: {
            type: "linear",
            min: -0.21,
            max: 4.4,
            display: showAxis,
            afterBuildTicks: (s: any) => {
              s.ticks = xTicks.map((v) => ({ value: v }));
            },
            afterFit: (s: any) => {
              if (showAxis) s.height = AXIS_H;
            },
            grid: {
              drawOnChartArea: false,
              drawTicks: true,
              tickLength: 7,
              tickColor: "#333333",
              tickWidth: 1.6,
            },
            border: { display: false },
            ticks: {
              font: { family: FONT, size: 21 },
              color: "#4D4D4D",
              padding: 2,
              maxRotation: 0,
              autoSkip: false,
            },
          },
          y: { type: "linear", min: 0, max: 1, display: false },
        },
      } as any,
      plugins: [panelBorder],
    });
    return () => chart.destroy();
  }, [points, color, showAxis]);
  return (
    <canvas
      ref={ref}
      width={PANEL_W}
      height={h}
      style={{ position: "absolute", left, top, width: PANEL_W, height: h }}
    />
  );
}

export default function App() {
  return (
    <div
      style={{
        position: "fixed",
        left: 0,
        top: 0,
        width: 1952,
        height: 1524,
        background: "#ffffff",
        overflow: "hidden",
        fontFamily: FONT,
      }}
    >
      {categories.map((c, i) => (
        <div
          key={c}
          style={{
            position: "absolute",
            left: LEFT0 + i * COL_PITCH,
            top: 2,
            width: PANEL_W,
            height: 42,
            boxSizing: "border-box",
            border: "1.8px solid #333333",
            background: "#D9D9D9",
            display: "flex",
            alignItems: "center",
            justifyContent: "center",
            fontWeight: 700,
            fontSize: 27,
            lineHeight: 1,
            color: "#1A1A1A",
            whiteSpace: "nowrap",
          }}
        >
          {c}
        </div>
      ))}
      {genes.map((g, r) => (
        <div
          key={g}
          style={{
            position: "absolute",
            left: 0,
            top: Math.round(TOP0 + r * ROW_PITCH),
            width: 42,
            height: PANEL_H,
            boxSizing: "border-box",
            border: "1.8px solid #333333",
            background: "#D9D9D9",
            display: "flex",
            alignItems: "center",
            justifyContent: "center",
          }}
        >
          <span
            style={{
              writingMode: "vertical-rl",
              transform: "rotate(180deg)",
              fontStyle: "italic",
              fontSize: 25,
              lineHeight: 1,
              color: "#1A1A1A",
              whiteSpace: "nowrap",
            }}
          >
            {g}
          </span>
        </div>
      ))}
      {genes.map((g, r) =>
        categories.map((c, ci) => (
          <Panel
            key={g + c}
            points={seriesByCategory[ci][r]}
            color={categoryColors[ci]}
            showAxis={r === genes.length - 1}
            left={LEFT0 + ci * COL_PITCH}
            top={Math.round(TOP0 + r * ROW_PITCH)}
          />
        ))
      )}
      <div
        style={{
          position: "absolute",
          left: LEFT0,
          top: 1492,
          width: 5 * COL_PITCH - 11,
          height: 36,
          lineHeight: "36px",
          textAlign: "center",
          fontSize: 28,
          color: "#111111",
          whiteSpace: "nowrap",
        }}
      >
        {"\u2212log"}
        <sub style={{ fontSize: "0.68em", verticalAlign: "-0.3em", lineHeight: 0 }}>10</sub>
        {"("}
        <i>p</i>
        {")"}
      </div>
    </div>
  );
}
